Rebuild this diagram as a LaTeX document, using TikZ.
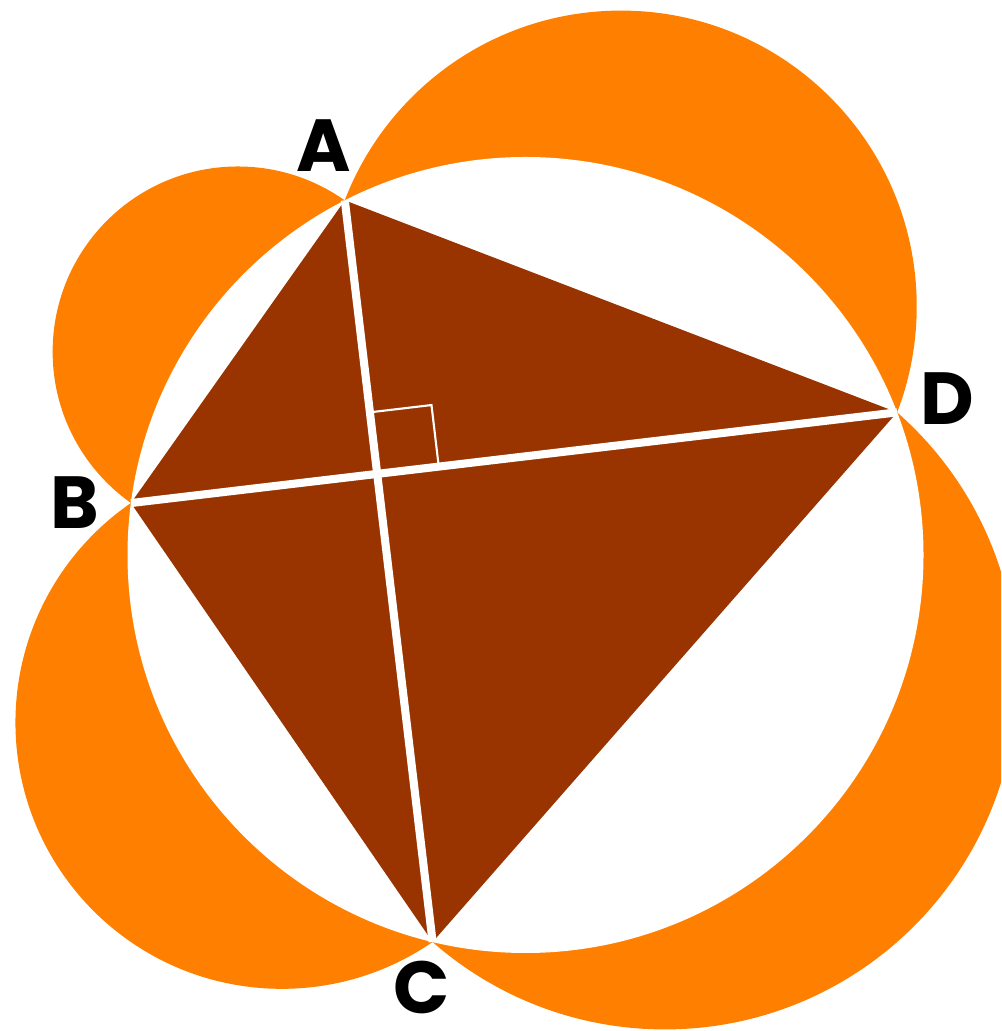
\documentclass[tikz,border=0pt]{standalone}
\usepackage{fontspec}
\newfontfamily\lblfont{Poppins}
\usetikzlibrary{calc,intersections}

\definecolor{lunecol}{HTML}{FF8000}
\definecolor{kitecol}{HTML}{993300}

\begin{document}
\begin{tikzpicture}[
    lune/.style={fill=lunecol, draw=none},
    disc/.style={fill=white, draw=none},
    kite/.style={fill=kitecol, draw=none},
    diag/.style={draw=white, line width=2.3pt},
    rightmark/.style={draw=white, line width=0.6pt},
    vname/.style={font=\lblfont\bfseries\fontsize{21}{23}\selectfont, text=black, inner sep=0pt}
]
    \useasboundingbox (0,0) rectangle (10.01,10.31);
    \clip (0,0) rectangle (10.01,10.31);

    % circumcircle and the four vertices
    \coordinate (O) at (5.255,4.76);
    \coordinate (A) at ($(O)+(117:3.98)$);
    \coordinate (B) at ($(O)+(172.5:3.98)$);
    \coordinate (C) at ($(O)+(256.5:3.98)$);
    \coordinate (D) at ($(O)+(21:3.98)$);

    % circles on the sides
    \foreach \u/\v in {A/B, B/C, C/D, D/A} {
        \path[lune] let \p1=($(\u)-(\v)$), \n1={veclen(\x1,\y1)/2} in
            ($(\u)!0.5!(\v)$) circle[radius=\n1];
    }

    \fill[disc] (O) circle[radius=3.98];
    \fill[kite] (A) -- (B) -- (C) -- (D) -- cycle;

    % diagonals
    \draw[diag] (A) -- (C);
    \draw[diag] (B) -- (D);

    % right angle
    \coordinate (P) at (intersection of A--C and B--D);
    \coordinate (PA) at ($(P)!0.62cm!(A)$);
    \coordinate (PD) at ($(P)!0.62cm!(D)$);
    \draw[rightmark] (PA) -- ($(PA)+(PD)-(P)$) -- (PD);

    \node[vname] (lA) at ($(A)+(-0.21,0.55)$) {A};
    \node[vname] (lB) at ($(B)+(-0.56,0.0)$) {B};
    \node[vname] (lC) at ($(C)+(-0.11,-0.45)$) {C};
    \node[vname] (lD) at ($(D)+(0.50,0.14)$) {D};
\end{tikzpicture}
\end{document}
